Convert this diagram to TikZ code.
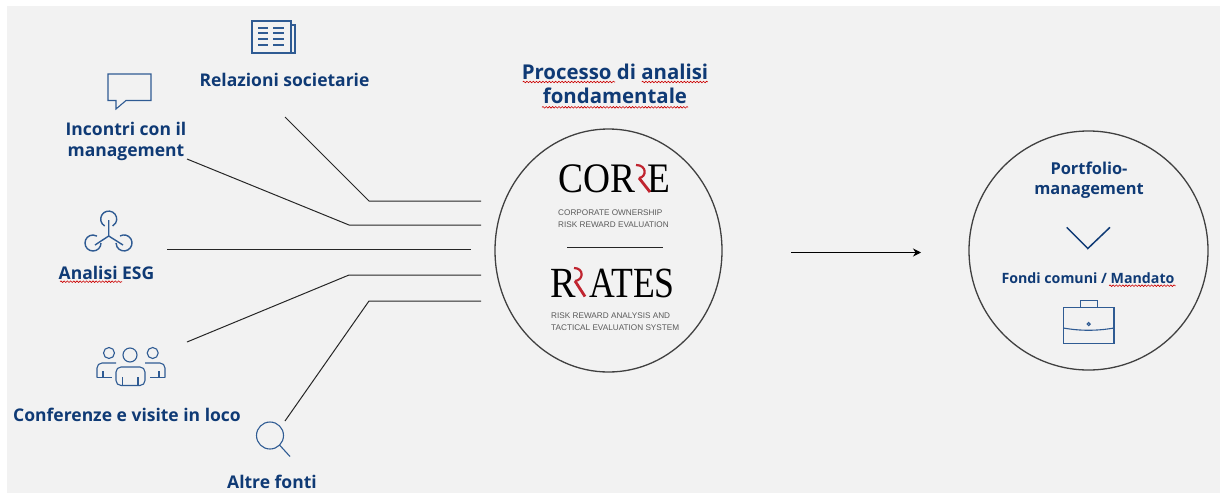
\documentclass[tikz,border=0pt]{standalone}
\usepackage{fontspec}
\setmainfont{Open Sans}
\newfontfamily\logofont[FakeStretch=0.89]{Liberation Serif}
\newfontfamily\logonarrow[FakeStretch=0.83]{Liberation Serif}
\newfontfamily\smallfont{Liberation Sans}
\usetikzlibrary{shapes.geometric,decorations.pathmorphing,arrows.meta}
\definecolor{navy}{HTML}{0F3A75}
\definecolor{iconblue}{HTML}{2F5B93}
\definecolor{panel}{HTML}{F2F2F2}
\definecolor{logored}{HTML}{C0242F}
\definecolor{logogray}{HTML}{5A5A5A}

\begin{document}
\begin{tikzpicture}[x=1pt, y=-1pt]
	\tikzstyle{Title} = [text=navy, font=\bfseries\fontsize{20.4}{24}\selectfont, align=center, inner sep=0pt]
	\tikzstyle{Label} = [text=navy, font=\bfseries\fontsize{17.5}{21}\selectfont, align=center, inner sep=0pt]
	\tikzstyle{Small} = [text=logogray, font=\smallfont\fontsize{8.2}{12}\selectfont, align=left, inner sep=0pt]
	\tikzstyle{Logo} = [text=black, font=\logofont\fontsize{42}{42}\selectfont, inner sep=0pt]
	\tikzstyle{Round} = [draw=black!75, line width=1.3pt, ellipse, inner sep=0pt]
	\tikzstyle{Link} = [draw=black!85, line width=1pt]
	\tikzstyle{Icon} = [draw=iconblue, line width=1.1pt]
	\tikzstyle{Wavy} = [draw=red!80!black, line width=0.6pt, decorate, decoration={snake, amplitude=0.8pt, segment length=3.2pt}]
	\tikzstyle{RedBowl} = [draw=logored, line width=2.2pt]
	\tikzstyle{RedLeg} = [draw=logored, line width=2.8pt]

	\useasboundingbox (0,0) rectangle (1220,493);
	\fill[white] (0,0) rectangle (1220,493);
	\fill[panel] (7,6) rectangle (1220,492.5);

	% labels
	\node[name=relazioni, Label] at (284.5,80) {Relazioni societarie};
	\node[name=incontri, Label] at (126,141.5) {Incontri con il\\management};
	\node[name=esg, Label] at (106.5,273) {Analisi ESG};
	\node[name=conferenze, Label] at (127,415) {Conferenze e visite in loco};
	\node[name=altre, Label] at (272,482) {Altre fonti};
	\node[name=processo, Title] at (615,84) {Processo di analisi\\fondamentale};

	% circles
	\node[name=analysis, Round, minimum width=227, minimum height=243] at (608.5,250.5) {};
	\node[name=portfolio, Round, minimum width=239, minimum height=239] at (1088.5,250.5) {};

	% logos
	\node[name=cor, Logo, anchor=base west] at (558,192) {COR};
	\node[name=corE, Logo, anchor=base east] at (671,192) {E};
	\draw[RedBowl] (636,165) .. controls (647,165) and (647,177) .. (639,178);
	\draw[RedLeg] (639,178) -- (650,192);
	\node[name=corA, Small, anchor=base west] at (558,227) {CORPORATE OWNERSHIP\\RISK REWARD EVALUATION};
	\node[name=rr, Logo, anchor=base west, font=\logofont\fontsize{43}{43}\selectfont] at (550,297) {R};
	\node[name=ates, Logo, anchor=base east, font=\logonarrow\fontsize{43}{43}\selectfont] at (675,297) {ATES};
	\draw[RedBowl] (574,268) .. controls (584,268) and (584,280) .. (575,281);
	\draw[RedLeg] (575,281) -- (585,296.5);
	\node[name=rrA, Small, anchor=base west] at (551,330.5) {RISK REWARD ANALYSIS AND\\TACTICAL EVALUATION SYSTEM};

	\coordinate (sepL) at (567,247);
	\coordinate (sepR) at (663,247);
	\draw[Link] (sepL) -- (sepR);

	% portfolio side
	\node[name=pm, Label, font=\bfseries\fontsize{16.4}{20}\selectfont] at (1089,180.5) {Portfolio-\\management};
	\node[name=fondi, Label, font=\bfseries\fontsize{14.2}{18}\selectfont] at (1088,278) {Fondi comuni / Mandato};

	% connectors
	\coordinate (a0) at (285,117);
	\coordinate (a1) at (369,201);
	\coordinate (a2) at (481,201);
	\coordinate (b0) at (187,159);
	\coordinate (b1) at (349,225);
	\coordinate (b2) at (481,225);
	\coordinate (c0) at (167,249.5);
	\coordinate (c1) at (471,249.5);
	\coordinate (d0) at (187,342);
	\coordinate (d1) at (349,275);
	\coordinate (d2) at (481,275);
	\coordinate (e0) at (285,421);
	\coordinate (e1) at (369,301);
	\coordinate (e2) at (481,301);
	\coordinate (f0) at (791,252.5);
	\coordinate (f1) at (921,252.5);
	\draw[Link] (a0) -- (a1) -- (a2);
	\draw[Link] (b0) -- (b1) -- (b2);
	\draw[Link] (c0) -- (c1);
	\draw[Link] (d0) -- (d1) -- (d2);
	\draw[Link] (e0) -- (e1) -- (e2);
	\draw[Link, draw=black, -{Stealth[length=8pt, width=8pt]}] (f0) -- (f1);

	% newspaper
	\draw[Icon] (252,21) rectangle (291,53);
	\draw[Icon] (291,25) -- (295,25) -- (295,53) -- (291,53);
	\draw[Icon] (258,28) -- (268,28) (273,28) -- (284,28);
	\draw[Icon] (258,33) -- (268,33) (273,33) -- (284,33);
	\draw[Icon] (258,39) -- (268,39) (273,39) -- (284,39);
	\draw[Icon] (258,45) -- (268,45) (273,45) -- (284,45);

	% speech bubble
	\draw[Icon] (108,74) -- (151,74) -- (151,100.5) -- (126,100.5) -- (116,109) -- (116,100.5) -- (108,100.5) -- cycle;

	% esg
	\draw[Icon, line width=1.4pt] (104.7,226) arc (120:420:8);
	\draw[Icon, line width=1.4pt] (101,243) arc (0:300:8);
	\draw[Icon, line width=1.4pt] (120,236) arc (240:540:8);
	\draw[Icon, line width=1.4pt] (108.7,220) -- (108.7,236) -- (95,245);
	\draw[Icon, line width=1.4pt] (108.7,236) -- (123,245);

	% people
	\draw[Icon] (109,353) circle (5.5);
	\draw[Icon] (130,355) circle (7);
	\draw[Icon] (152.7,353) circle (5.5);
	\draw[Icon, rounded corners=5pt] (116,385.5) -- (116,367) -- (145,367) -- (145,385.5) -- cycle;
	\draw[Icon] (122.5,377) -- (122.5,385.5) (138,377) -- (138,385.5);
	\draw[Icon, rounded corners=5pt] (116,363) -- (97,363) -- (97,377.5);
	\draw[Icon] (97,377.5) -- (112,377.5) (103,371) -- (103,377.5);
	\draw[Icon, rounded corners=5pt] (145,363) -- (165,363) -- (165,377.5);
	\draw[Icon] (165,377.5) -- (150,377.5) (159,371) -- (159,377.5);

	% magnifier
	\draw[Icon] (270,435.5) circle (13.5);
	\draw[Icon] (279.5,445) -- (290,456.5);

	% chevron
	\draw[draw=navy, line width=1.5pt] (1066.7,227.3) -- (1087.8,248.5) -- (1110,227.3);

	% briefcase
	\draw[Icon] (1063.3,307.3) rectangle (1114,343.3);
	\draw[Icon] (1080.3,307.3) -- (1080.3,300.7) -- (1097.3,300.7) -- (1097.3,307.3);
	\draw[Icon] (1063.3,328) .. controls (1080,331) and (1097,331) .. (1114,328);
	\draw[Icon] (1088.7,324) circle (1.5);

	% spell check marks
	\draw[Wavy] (60,281.7) -- (122,281.7);
	\draw[Wavy] (522.7,82) -- (615,82);
	\draw[Wavy] (641.7,82) -- (707.7,82);
	\draw[Wavy] (542,107.3) -- (688,107.3);
	\draw[Wavy] (1109,285.7) -- (1175.7,285.7);
\end{tikzpicture}
\end{document}
